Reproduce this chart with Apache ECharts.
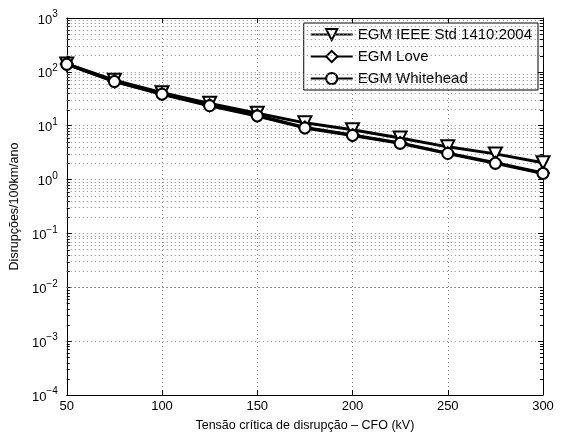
<!DOCTYPE html>
<html><head><meta charset="utf-8">
<script src="https://cdn.jsdelivr.net/npm/echarts@6/dist/echarts.min.js"></script>
<style>html,body{margin:0;padding:0;background:#fff}#c{width:563px;height:439px}</style>
</head><body><div id="c"></div>
<script>
const cfo = [50, 75, 100, 125, 150, 175, 200, 225, 250, 275, 300];
const ieee = [140, 70, 41, 26, 17, 11.3, 8.4, 5.9, 4.05, 3.0, 2.05];
const love = [140, 67, 39, 24, 15.5, 9.3, 6.7, 4.8, 3.1, 2.05, 1.33];
const whitehead = [138, 66, 38.5, 23.5, 15.2, 9.1, 6.6, 4.7, 3.05, 2.0, 1.3];
const names = ['EGM IEEE Std 1410:2004', 'EGM Love', 'EGM Whitehead'];
const yExpMin = -4, yExpMax = 3;

const F = 'Liberation Sans, Arial, Helvetica, sans-serif';
const minorVals = [];
for (let e = yExpMin; e < yExpMax; e++) for (let m = 2; m <= 9; m++) minorVals.push(m * Math.pow(10, e));

const gridDot = {color: '#888', width: 1, type: [1, 3]};
function mk(name, vals, sym, rot, size) {
  return {
    name, type: 'line', data: cfo.map((x, i) => [x, vals[i]]),
    symbol: sym, symbolSize: size, symbolRotate: rot || 0,
    lineStyle: {color: '#000', width: 3}, itemStyle: {color: '#000', borderWidth: 2.5},
    z: 5, animation: false
  };
}
const chart = echarts.init(document.getElementById('c'));
chart.setOption({
  animation: false,
  grid: {left: 65, right: 20, top: 18, bottom: 44, show: false},
  legend: {
    right: 25, top: 23, orient: 'vertical', backgroundColor: '#fff', borderColor: '#000', borderWidth: 1,
    padding: [4, 6, 4, 6], itemGap: 7, itemWidth: 42, itemHeight: 14,
    textStyle: {fontFamily: F, fontSize: 15, color: '#000'}, data: names
  },
  xAxis: [{
    type: 'value', min: 50, max: 300, interval: 50,
    name: 'Tensão crítica de disrupção – CFO (kV)', nameLocation: 'middle', nameGap: 24,
    nameTextStyle: {fontFamily: F, fontSize: 12.5, color: '#000'},
    axisLine: {lineStyle: {color: '#000', width: 1}},
    axisTick: {inside: true, length: 5, lineStyle: {color: '#000'}},
    axisLabel: {fontFamily: F, fontSize: 13, color: '#000', margin: 5},
    splitLine: {show: true, lineStyle: gridDot}
  }, {
    type: 'value', position: 'top', min: 50, max: 300, interval: 50,
    axisLine: {show: true, lineStyle: {color: '#000', width: 1}},
    axisTick: {inside: true, length: 5, lineStyle: {color: '#000'}},
    axisLabel: {show: false}, splitLine: {show: false}
  }],
  yAxis: [{
    type: 'log', logBase: 10, min: Math.pow(10, yExpMin), max: Math.pow(10, yExpMax),
    name: 'Disrupções/100km/ano', nameLocation: 'middle', nameGap: 37,
    nameTextStyle: {fontFamily: F, fontSize: 12.5, color: '#000'},
    axisLine: {show: true, lineStyle: {color: '#000', width: 1}},
    axisTick: {show: true, inside: true, length: 5, lineStyle: {color: '#000'}},
    axisLabel: {
      margin: 9, color: '#000',
      formatter: v => '{b|10}{s|' + Math.round(Math.log10(v)).toString().replace('-', '−') + '}',
      rich: {
        b: {fontFamily: F, fontSize: 13, color: '#000', lineHeight: 17, verticalAlign: 'bottom'},
        s: {fontFamily: F, fontSize: 10, color: '#000', lineHeight: 17, verticalAlign: 'top'}
      }
    },
    splitLine: {show: true, lineStyle: gridDot}
  }, {
    type: 'log', logBase: 10, position: 'right', min: Math.pow(10, yExpMin), max: Math.pow(10, yExpMax),
    axisLine: {show: true, lineStyle: {color: '#000', width: 1}},
    axisTick: {show: true, inside: true, length: 5, lineStyle: {color: '#000'}},
    axisLabel: {show: false}, splitLine: {show: false}
  }],
  series: [
    {
      type: 'line', data: [], silent: true, z: 1,
      markLine: {silent: true, symbol: 'none', label: {show: false}, animation: false,
        lineStyle: gridDot, data: minorVals.map(v => ({yAxis: v}))}
    },
    mk(names[0], ieee, 'emptyTriangle', 180, 13),
    mk(names[1], love, 'emptyDiamond', 0, 12),
    mk(names[2], whitehead, 'emptyCircle', 0, 11)
  ]
});
// minor log ticks on left and right axes, positioned through the axis scale
const xL = chart.convertToPixel({xAxisIndex: 0}, 50);
const xR = chart.convertToPixel({xAxisIndex: 0}, 300);
const ticks = [];
minorVals.forEach(v => {
  const y = Math.round(chart.convertToPixel({yAxisIndex: 0}, v)) + 0.5;
  ticks.push({type: 'line', silent: true, shape: {x1: xL, y1: y, x2: xL + 3, y2: y}, style: {stroke: '#000', lineWidth: 1}});
  ticks.push({type: 'line', silent: true, shape: {x1: xR - 3, y1: y, x2: xR, y2: y}, style: {stroke: '#000', lineWidth: 1}});
});
chart.setOption({graphic: ticks});
</script></body></html>
